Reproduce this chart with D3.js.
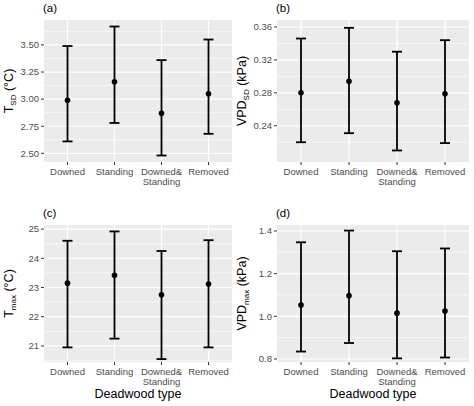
<!DOCTYPE html>
<html><head><meta charset="utf-8">
<script src="https://cdn.jsdelivr.net/npm/d3@7"></script>
<style>body{margin:0;background:#fff}text{font-family:"Liberation Sans",Arial,sans-serif}</style>
</head><body><div id="chart"></div>
<script>
const categories = [["Downed"], ["Standing"], ["Downed&", "Standing"], ["Removed"]];

const tsdMean = [2.99, 3.16, 2.87, 3.05];
const tsdLow = [2.61, 2.78, 2.48, 2.68];
const tsdHigh = [3.49, 3.67, 3.36, 3.55];
const tsdTicks = [2.50, 2.75, 3.00, 3.25, 3.50];

const vpdsdMean = [0.280, 0.294, 0.268, 0.279];
const vpdsdLow = [0.220, 0.231, 0.210, 0.219];
const vpdsdHigh = [0.346, 0.359, 0.330, 0.344];
const vpdsdTicks = [0.24, 0.28, 0.32, 0.36];

const tmaxMean = [23.15, 23.42, 22.75, 23.12];
const tmaxLow = [20.95, 21.25, 20.55, 20.95];
const tmaxHigh = [24.6, 24.92, 24.25, 24.62];
const tmaxTicks = [21, 22, 23, 24, 25];

const vpdmaxMean = [1.053, 1.097, 1.015, 1.025];
const vpdmaxLow = [0.835, 0.875, 0.803, 0.807];
const vpdmaxHigh = [1.347, 1.402, 1.305, 1.318];
const vpdmaxTicks = [0.8, 1.0, 1.2, 1.4];

const svg = d3.select("#chart").append("svg").attr("width", 474).attr("height", 406);

function panel(o) {
    const x = d3.scaleBand().domain(d3.range(4)).range([o.x0, o.x1]).padding(0);
    const y = d3.scaleLinear().domain(o.domain).range([o.y1, o.y0]);
    const g = svg.append("g");
    g.append("rect").attr("x", o.x0).attr("y", o.y0).attr("width", o.x1 - o.x0).attr("height", o.y1 - o.y0).attr("fill", "#ebebeb");
    // minor grid
    for (let i = 0; i < o.ticks.length - 1; i++) {
        const m = (o.ticks[i] + o.ticks[i + 1]) / 2;
        g.append("line").attr("x1", o.x0).attr("x2", o.x1).attr("y1", y(m)).attr("y2", y(m)).attr("stroke", "#fff").attr("stroke-width", 0.6);
    }
    const step = o.ticks[1] - o.ticks[0];
    [o.ticks[0] - step / 2, o.ticks[o.ticks.length - 1] + step / 2].forEach(m => {
        if (m > o.domain[0] && m < o.domain[1])
            g.append("line").attr("x1", o.x0).attr("x2", o.x1).attr("y1", y(m)).attr("y2", y(m)).attr("stroke", "#fff").attr("stroke-width", 0.6);
    });
    o.ticks.forEach(t => {
        g.append("line").attr("x1", o.x0).attr("x2", o.x1).attr("y1", y(t)).attr("y2", y(t)).attr("stroke", "#fff").attr("stroke-width", 1.2);
    });
    d3.range(4).forEach(i => {
        const cx = x(i) + x.bandwidth() / 2;
        g.append("line").attr("x1", cx).attr("x2", cx).attr("y1", o.y0).attr("y2", o.y1).attr("stroke", "#fff").attr("stroke-width", 1.2);
    });
    // y axis
    o.ticks.forEach(t => {
        g.append("line").attr("x1", o.x0 - 3).attr("x2", o.x0).attr("y1", y(t)).attr("y2", y(t)).attr("stroke", "#333");
        g.append("text").attr("x", o.x0 - 5).attr("y", y(t)).attr("dy", "0.35em").attr("text-anchor", "end")
            .attr("font-size", 9.5).attr("fill", "#4d4d4d").text(d3.format(o.fmt)(t));
    });
    // x axis
    categories.forEach((c, i) => {
        const cx = x(i) + x.bandwidth() / 2;
        g.append("line").attr("x1", cx).attr("x2", cx).attr("y1", o.y1).attr("y2", o.y1 + 3).attr("stroke", "#333");
        c.forEach((s, j) => g.append("text").attr("x", cx).attr("y", o.y1 + 13 + j * 10).attr("text-anchor", "middle")
            .attr("font-size", 9.5).attr("fill", "#4d4d4d").text(s));
    });
    // error bars
    d3.range(4).forEach(i => {
        const cx = x(i) + x.bandwidth() / 2;
        g.append("line").attr("x1", cx).attr("x2", cx).attr("y1", y(o.low[i])).attr("y2", y(o.high[i])).attr("stroke", "#000").attr("stroke-width", 1.8);
        [o.low[i], o.high[i]].forEach(v => g.append("line").attr("x1", cx - 5).attr("x2", cx + 5).attr("y1", y(v)).attr("y2", y(v)).attr("stroke", "#000").attr("stroke-width", 1.8));
        g.append("circle").attr("cx", cx).attr("cy", y(o.mean[i])).attr("r", 2.8).attr("fill", "#000");
    });
    g.append("text").attr("x", o.x0 - 1).attr("y", o.y0 - 8).attr("font-size", 11.5).text(o.tag);
    const yt = g.append("text").attr("transform", `translate(${o.x0 - 31},${(o.y0 + o.y1) / 2}) rotate(-90)`)
        .attr("text-anchor", "middle").attr("font-size", 12.5);
    yt.append("tspan").text(o.main);
    yt.append("tspan").attr("font-size", 8).attr("dy", 3).text(o.sub);
    yt.append("tspan").attr("dy", -3).text(o.unit);
    if (o.xlab) g.append("text").attr("x", (o.x0 + o.x1) / 2).attr("y", 398).attr("text-anchor", "middle").attr("font-size", 12.5).text("Deadwood type");
}

panel({x0: 44, x1: 232, y0: 20, y1: 162, domain: [2.42, 3.73], ticks: tsdTicks, fmt: ".2f", mean: tsdMean, low: tsdLow, high: tsdHigh, tag: "(a)", main: "T", sub: "SD", unit: " (°C)"});
panel({x0: 277, x1: 469, y0: 20, y1: 162, domain: [0.196, 0.3685], ticks: vpdsdTicks, fmt: ".2f", mean: vpdsdMean, low: vpdsdLow, high: vpdsdHigh, tag: "(b)", main: "VPD", sub: "SD", unit: " (kPa)"});
panel({x0: 44, x1: 232, y0: 225, y1: 362, domain: [20.45, 25.14], ticks: tmaxTicks, fmt: "d", mean: tmaxMean, low: tmaxLow, high: tmaxHigh, tag: "(c)", main: "T", sub: "max", unit: " (°C)", xlab: true});
panel({x0: 277, x1: 469, y0: 225, y1: 362, domain: [0.786, 1.428], ticks: vpdmaxTicks, fmt: ".1f", mean: vpdmaxMean, low: vpdmaxLow, high: vpdmaxHigh, tag: "(d)", main: "VPD", sub: "max", unit: " (kPa)", xlab: true});
</script></body></html>
